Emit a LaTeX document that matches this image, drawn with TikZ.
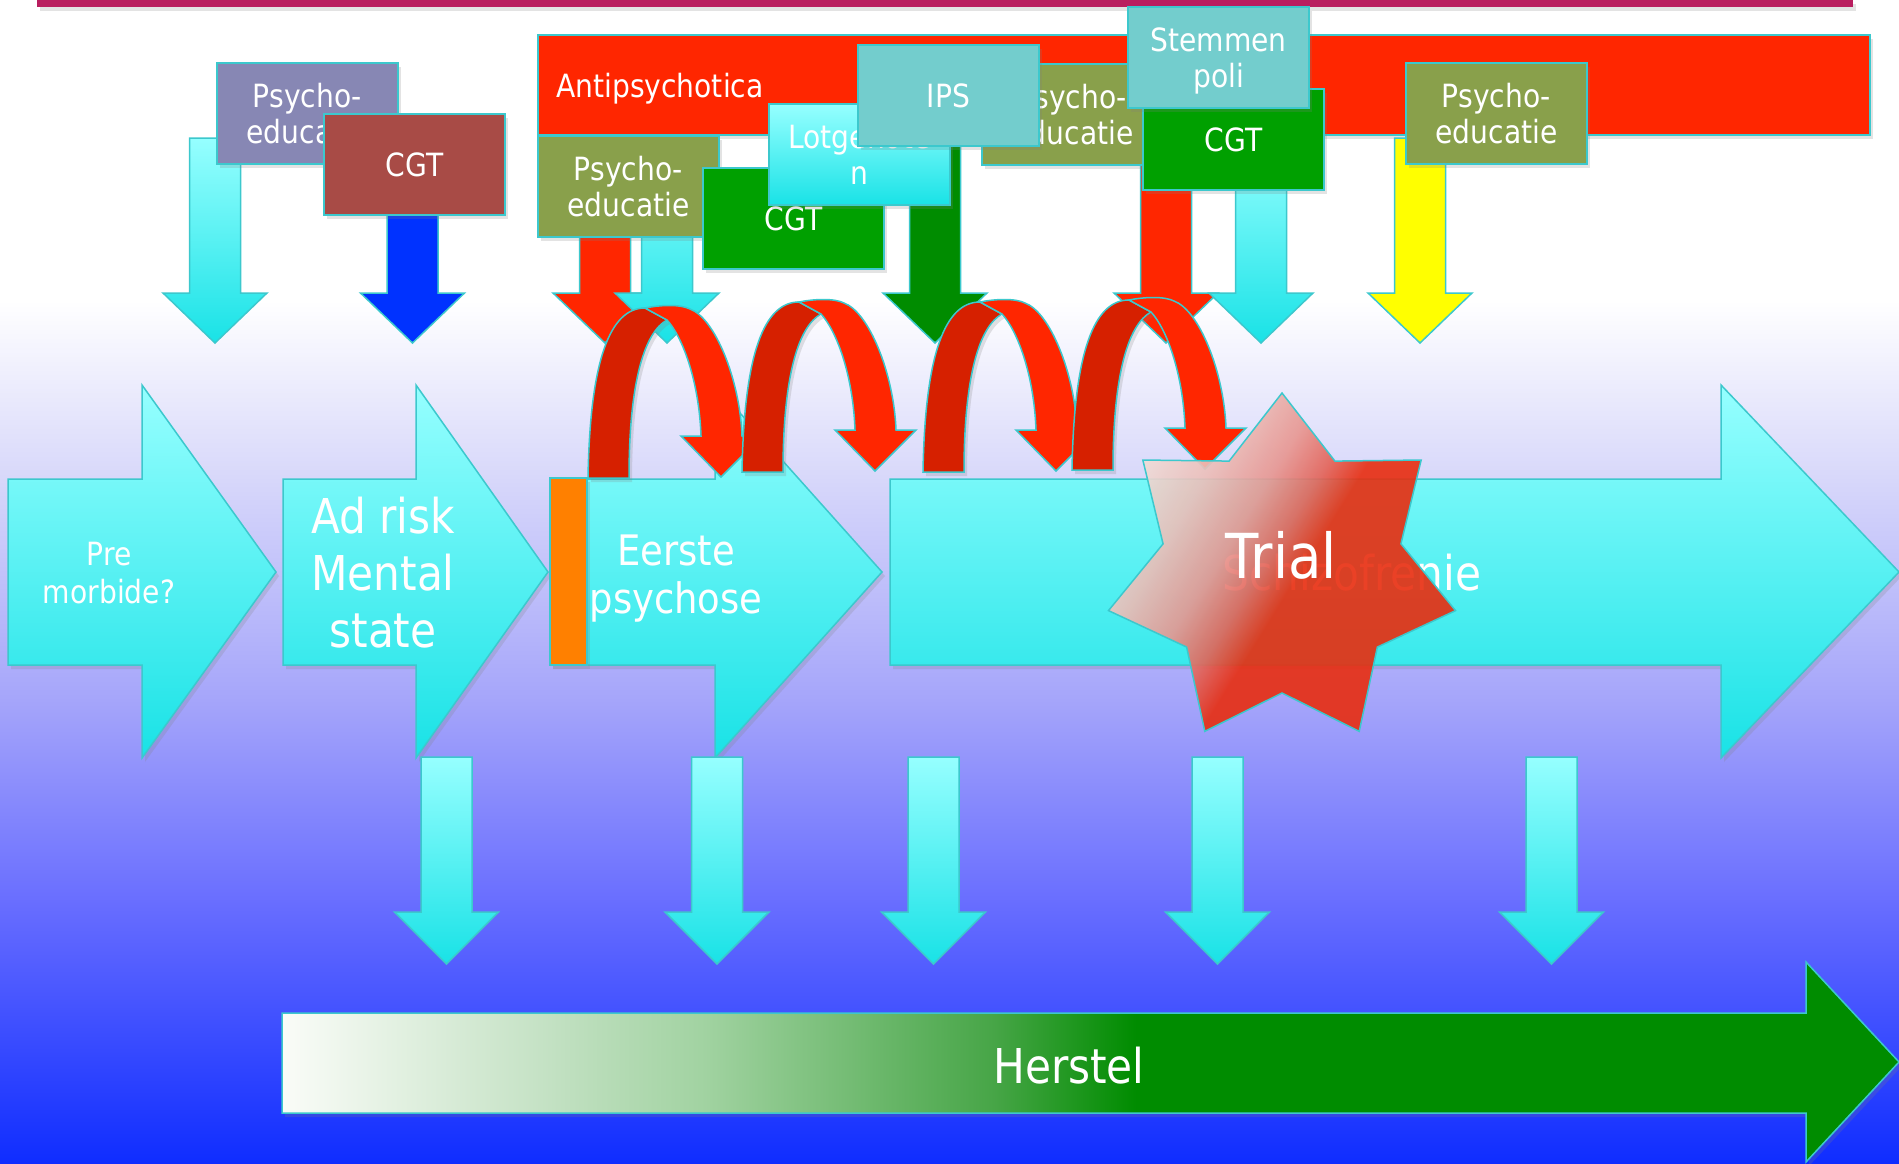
\documentclass[tikz,border=0pt]{standalone}
\usepackage{fontspec}
\setmainfont{DejaVu Sans}[FakeStretch=0.88]
\usetikzlibrary{shadows}

% palette
\definecolor{edge}{RGB}{60,200,205}
\definecolor{topbar}{RGB}{185,30,95}
\definecolor{apred}{RGB}{255,38,0}
\definecolor{darkred}{RGB}{214,32,0}
\definecolor{peviolet}{RGB}{135,135,180}
\definecolor{cgtbrown}{RGB}{168,75,70}
\definecolor{peolive}{RGB}{137,160,75}
\definecolor{cgtgreen}{RGB}{0,160,0}
\definecolor{arrgreen}{RGB}{0,140,0}
\definecolor{tealbox}{RGB}{115,205,205}
\definecolor{cyanhi}{RGB}{150,255,255}
\definecolor{cyanlo}{RGB}{25,226,230}
\definecolor{arrblue}{RGB}{0,50,255}
\definecolor{arryellow}{RGB}{255,255,0}
\definecolor{orangebar}{RGB}{255,128,0}
\definecolor{bgone}{RGB}{215,215,250}
\definecolor{bgtwo}{RGB}{165,165,250}
\definecolor{bgthree}{RGB}{105,110,255}
\definecolor{bgfour}{RGB}{15,45,255}
\definecolor{hzero}{RGB}{250,252,248}
\definecolor{hone}{RGB}{195,225,195}
\definecolor{htwo}{RGB}{160,210,160}
\definecolor{hthree}{RGB}{110,185,110}
\definecolor{hfour}{RGB}{70,165,70}
\definecolor{starlight}{RGB}{240,220,214}
\definecolor{starpale}{RGB}{236,190,184}
\definecolor{starpink}{RGB}{232,150,144}
\definecolor{starmid}{RGB}{228,100,88}
\definecolor{starred}{RGB}{232,45,15}

% star: pale corner, turning into red past the middle
\pgfdeclarehorizontalshading{starshade}{100bp}{%
  color(0bp)=(starlight); color(25bp)=(starlight); color(34bp)=(starpale);
  color(42bp)=(starpink); color(48bp)=(starmid); color(53bp)=(starred);
  color(100bp)=(starred)}

% block arrow pointing down: style, centre x, top y, head y, tip y
\newcommand\blockdown[5]{%
  \path[#1] ({#2-25.5},#3) -- ({#2+25.5},#3) -- ({#2+25.5},#4) -- ({#2+52},#4)
    -- (#2,#5) -- ({#2-52},#4) -- ({#2-25.5},#4) -- cycle;}

% folded ribbon arrow, shifted by (#1,#2)
\newcommand\curlyribbon[2]{%
  \begin{scope}[shift={(#1,#2)}]
    \path[curlback] (588,478) .. controls (590,360) and (610,308) .. (645,308)
      -- (667,320) .. controls (645,332) and (629,380) .. (629,478) -- cycle;
    \path[curlfront] (645,308) .. controls (660,305) and (680,304) .. (690,309)
      .. controls (715,318) and (740,380) .. (742,436) -- (762,436) -- (721,477)
      -- (681,436) -- (701,436) .. controls (699,380) and (682,336) .. (667,320) -- cycle;
  \end{scope}}

% outline of the recovery arrow
\newcommand\herstelpath{(282,1013) -- (1806,1013) -- (1806,962) -- (1899,1062)
  -- (1806,1162) -- (1806,1113) -- (282,1113) -- cycle}

\begin{document}
\begin{tikzpicture}[x=1pt, y=-1pt,
  edgeline/.style={draw=edge, line width=1.5pt},
  shadowed/.style={drop shadow={shadow xshift=3pt, shadow yshift=-4pt, opacity=0.22}},
  tbox/.style={draw=edge, line width=2pt, minimum width=181pt, minimum height=101pt,
    inner sep=0pt, align=center, text=white, font=\fontsize{32}{36}\selectfont,
    anchor=north west, shadowed},
  lbl/.style={text=white, inner sep=0pt, anchor=base},
  cyanarrow/.style={shade, top color=cyanhi, bottom color=cyanlo, edgeline},
  procarrow/.style={shade, top color=cyanhi, bottom color=cyanlo, edgeline, shadowed},
  curlback/.style={fill=darkred, edgeline, shadowed},
  curlfront/.style={fill=apred, edgeline},
  starfill/.style={shading=starshade, shading angle=-32, fill opacity=0.9, edgeline}]

\useasboundingbox (0,0) rectangle (1899,1164);

% background, white fading into deep blue
\fill[white] (0,0) rectangle (1899,301);
\shade[top color=white, bottom color=bgone] (0,300) rectangle (1899,481);
\shade[top color=bgone, bottom color=bgtwo] (0,480) rectangle (1899,701);
\shade[top color=bgtwo, bottom color=bgthree] (0,700) rectangle (1899,901);
\shade[top color=bgthree, bottom color=bgfour] (0,900) rectangle (1899,1164);

% title rule
\fill[topbar, shadowed] (37,0) rectangle (1853,7);

% medication band
\node[draw=edge, line width=2pt, fill=apred, minimum width=1332pt, minimum height=100pt,
  inner sep=0pt, anchor=north west, shadowed] (antip) at (537,34) {};
\node[lbl, anchor=base west, font=\fontsize{32}{36}\selectfont] (antitxt) at (556,97) {Antipsychotica};

% interventions reaching down
\blockdown{cyanarrow}{215}{138}{293}{343}
\blockdown{fill=arrblue, edgeline}{412.5}{140}{293}{343}
\blockdown{fill=apred, edgeline}{605}{140}{293}{343}
\blockdown{cyanarrow}{667}{140}{293}{343}
\blockdown{fill=arrgreen, edgeline}{935}{140}{293}{343}
\blockdown{fill=apred, edgeline}{1166}{140}{293}{343}
\blockdown{cyanarrow}{1261}{140}{293}{343}
\blockdown{fill=arryellow, edgeline}{1420}{138}{293}{343}

% intervention boxes
\node[tbox, fill=peviolet] (pevio) at (216,62) {Psycho-\\educatie};
\node[tbox, fill=cgtbrown] (cgtbr) at (323,113) {CGT};
\node[tbox, fill=peolive] (peleft) at (537,135) {Psycho-\\educatie};
\node[tbox, fill=cgtgreen] (cgtleft) at (702,167) {CGT};
\node[tbox, top color=cyanhi, bottom color=cyanlo] (lotg) at (768,103) {Lotgenote\\n};
\node[tbox, fill=peolive] (pemid) at (981,63) {Psycho-\\educatie};
\node[tbox, fill=tealbox] (ips) at (857,44) {IPS};
\node[tbox, fill=cgtgreen] (cgtright) at (1142,88) {CGT};
\node[tbox, fill=tealbox, text depth=0pt] (stem) at (1127,6) {Stemmen\\poli};
\node[tbox, fill=peolive] (peright) at (1405,62) {Psycho-\\educatie};

% stages
\path[procarrow] (8,479) -- (142,479) -- (142,385) -- (276,572) -- (142,758) -- (142,665) -- (8,665) -- cycle;
\path[procarrow] (283,479) -- (416,479) -- (416,385) -- (548,572) -- (416,758) -- (416,665) -- (283,665) -- cycle;
\path[procarrow] (550,479) -- (715,479) -- (715,385) -- (882,572) -- (715,758) -- (715,665) -- (550,665) -- cycle;
\path[procarrow] (890,479) -- (1721,479) -- (1721,385) -- (1899,572) -- (1721,758) -- (1721,665) -- (890,665) -- cycle;
\fill[orangebar, edgeline, shadowed] (550,478) rectangle (587,665);

\node[lbl, font=\fontsize{32}{38}\selectfont] (pre1) at (109,565) {Pre};
\node[lbl, font=\fontsize{32}{38}\selectfont] (pre2) at (109,603) {morbide?};
\node[lbl, font=\fontsize{48}{57}\selectfont] (arms1) at (383,533) {Ad risk};
\node[lbl, font=\fontsize{48}{57}\selectfont] (arms2) at (383,590) {Mental};
\node[lbl, font=\fontsize{48}{57}\selectfont] (arms3) at (383,647) {state};
\node[lbl, font=\fontsize{42}{50}\selectfont] (eps1) at (676,565) {Eerste};
\node[lbl, font=\fontsize{42}{50}\selectfont] (eps2) at (676,613) {psychose};

% relapse loops
\curlyribbon{0}{0}
\curlyribbon{154}{-6}
\curlyribbon{335}{-6}
\curlyribbon{484}{-8}

\node[lbl, font=\fontsize{48}{56}\selectfont] (schizo) at (1352,590) {Schizofrenie};

% trial star
\foreach \i in {0,...,6} {
  \coordinate (so\i) at ({1282+178*cos(90+\i*360/7)}, {571-178*sin(90+\i*360/7)});
  \coordinate (si\i) at ({1282+122*cos(90+(\i+0.5)*360/7)}, {571-122*sin(90+(\i+0.5)*360/7)});
}
\shade[starfill] (so0) -- (si0) -- (so1) -- (si1) -- (so2) -- (si2) -- (so3) -- (si3)
  -- (so4) -- (si4) -- (so5) -- (si5) -- (so6) -- (si6) -- cycle;
\node[lbl, font=\fontsize{62}{70}\selectfont] (trial) at (1281,578) {Trial};

% outcome arrows
\blockdown{cyanarrow}{446.5}{757}{912}{964}
\blockdown{cyanarrow}{717}{757}{912}{964}
\blockdown{cyanarrow}{933.5}{757}{912}{964}
\blockdown{cyanarrow}{1217.5}{757}{912}{964}
\blockdown{cyanarrow}{1551.5}{757}{912}{964}

% recovery: green arrow, pale on its left part
\fill[arrgreen, shadowed] \herstelpath;
\shade[left color=hzero, right color=hone] (282,1013) rectangle (550,1113);
\shade[left color=hone, right color=htwo] (549,1013) rectangle (709,1113);
\shade[left color=htwo, right color=hthree] (708,1013) rectangle (869,1113);
\shade[left color=hthree, right color=hfour] (868,1013) rectangle (996,1113);
\shade[left color=hfour, right color=arrgreen] (995,1013) rectangle (1136,1113);
\draw[edgeline] \herstelpath;
\node[lbl, font=\fontsize{48}{56}\selectfont] (herstel) at (1069,1083) {Herstel};

\end{tikzpicture}
\end{document}
